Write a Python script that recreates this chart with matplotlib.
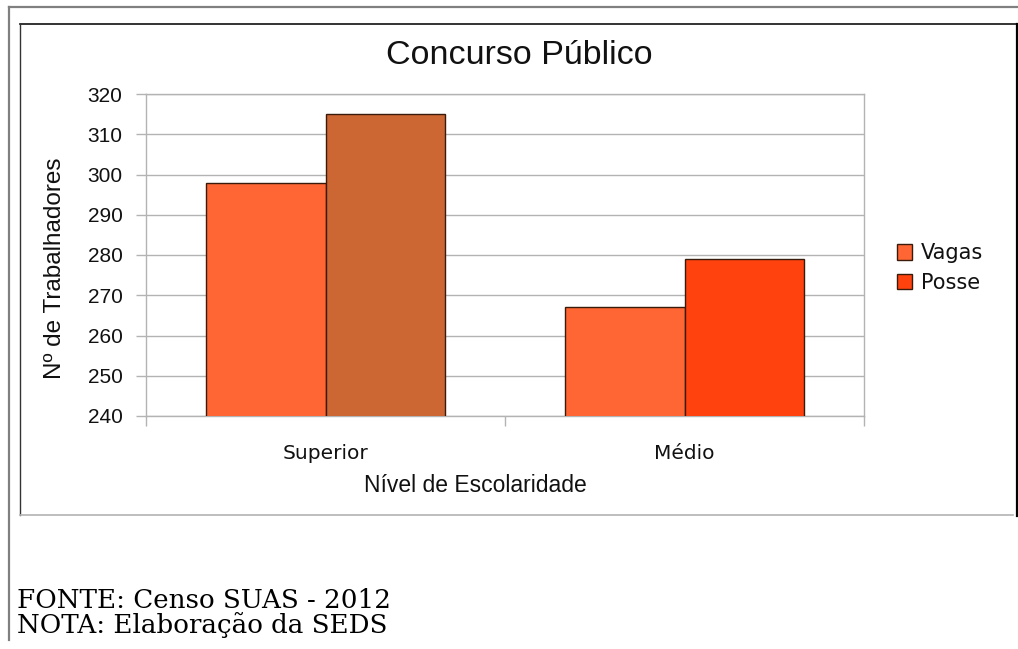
import matplotlib
matplotlib.use("Agg")
import matplotlib.pyplot as plt
import numpy as np
from matplotlib.lines import Line2D
from matplotlib.patches import Patch

categories = ["Superior", "Médio"]
series = ["Vagas", "Posse"]
vagas = [298, 267]
posse = [315, 279]
yticks = [240, 250, 260, 270, 280, 290, 300, 310, 320]

vagas_colors = ["#FF6633", "#FF6633"]
posse_colors = ["#CC6633", "#FF420E"]
legend_colors = ["#FF6633", "#FF420E"]

W, H = 1018, 649
fig = plt.figure(figsize=(W / 100, H / 100), dpi=100)
fig.patch.set_facecolor("white")

def fx(px):
    return px / W

def fy(py):
    return 1 - py / H

# outer frame lines
fig.add_artist(Line2D([fx(9), fx(9)], [fy(7), fy(640)], color="#808080", lw=1.6, transform=fig.transFigure))
fig.add_artist(Line2D([fx(9), fx(1018)], [fy(7), fy(7)], color="#808080", lw=1.6, transform=fig.transFigure))
# inner chart frame
fig.add_artist(Line2D([fx(20), fx(1017)], [fy(24), fy(24)], color="#111111", lw=1.2, transform=fig.transFigure))
fig.add_artist(Line2D([fx(20), fx(20)], [fy(24), fy(515)], color="#333333", lw=1.0, transform=fig.transFigure))
fig.add_artist(Line2D([fx(1017), fx(1017)], [fy(24), fy(516)], color="#000000", lw=1.6, transform=fig.transFigure))
fig.add_artist(Line2D([fx(20), fx(1013)], [fy(515), fy(515)], color="#b3b3b3", lw=1.2, transform=fig.transFigure))

ax = fig.add_axes([fx(146), fy(416), fx(864) - fx(146), fy(94) - fy(416)])
x = np.arange(len(categories))
w = 1 / 3
ax.bar(x - w / 2, vagas, width=w, color=vagas_colors, edgecolor="#3a1a0a", linewidth=1.0, zorder=3)
ax.bar(x + w / 2, posse, width=w, color=posse_colors, edgecolor="#3a1a0a", linewidth=1.0, zorder=3)

ax.set_xlim(-0.5, 1.5)
ax.set_ylim(240, 320)
ax.set_yticks(yticks)
ax.set_yticklabels([str(v) for v in yticks], fontfamily="Liberation Sans", fontsize=15, color="#111111")
ax.yaxis.grid(True, color="#b3b3b3", linewidth=1.0, zorder=0)
ax.set_axisbelow(True)
ax.set_xticks([-0.5, 0.5, 1.5])
ax.set_xticklabels([])
ax.set_xticks(x, minor=True)
ax.set_xticklabels(categories, minor=True, fontfamily="DejaVu Sans", fontsize=14.5, color="#111111")
ax.tick_params(axis="x", which="minor", length=0, pad=20)
ax.tick_params(axis="x", which="major", length=7.5, color="#b3b3b3", width=1.0)
ax.tick_params(axis="y", length=7, color="#b3b3b3", width=1.0, pad=10)
for s in ax.spines.values():
    s.set_color("#b3b3b3")
    s.set_linewidth(1.0)

fig.text(fx(55), fy(268), "Nº de Trabalhadores", fontfamily="Liberation Sans", fontsize=17.5,
         color="#111111", ha="center", va="center", rotation=90)
fig.text(fx(475), fy(485), "Nível de Escolaridade", fontfamily="Liberation Sans", fontsize=16.5,
         color="#111111", ha="center", va="center")
fig.text(fx(519), fy(55), "Concurso Público", fontfamily="Liberation Sans", fontsize=24.5,
         color="#111111", ha="center", va="center")

handles = [Patch(facecolor=c, edgecolor="#3a1a0a", linewidth=1.0) for c in legend_colors]
leg = fig.legend(handles, series, loc="center left", bbox_to_anchor=(fx(878), fy(268)),
                 frameon=False, prop={"family": "DejaVu Sans", "size": 15},
                 handlelength=0.75, handleheight=0.75, handletextpad=0.4, labelspacing=0.45)
for t in leg.get_texts():
    t.set_color("#111111")

fig.text(fx(17), fy(608), "FONTE: Censo SUAS - 2012", fontfamily="DejaVu Serif", fontsize=18.8,
         color="#000000", ha="left", va="baseline")
fig.text(fx(17), fy(633), "NOTA: Elaboração da SEDS", fontfamily="DejaVu Serif", fontsize=18.8,
         color="#000000", ha="left", va="baseline")

fig.savefig("out.png", dpi=100, facecolor="white")
